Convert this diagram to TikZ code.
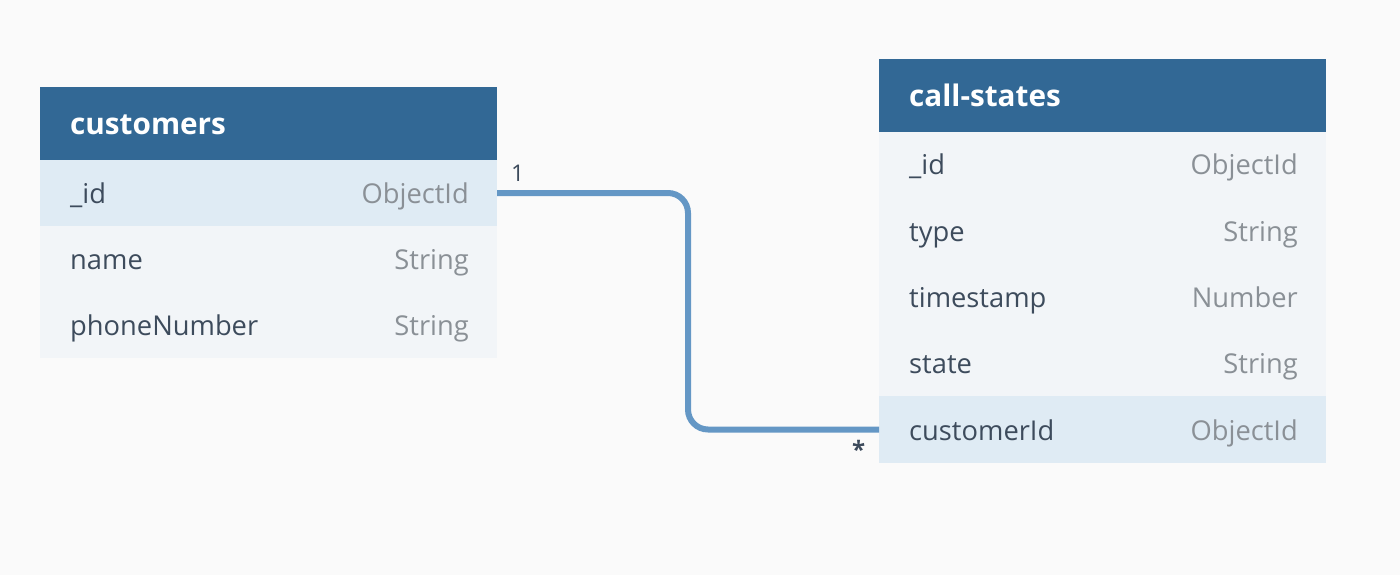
\documentclass[tikz,border=0pt]{standalone}
\usepackage{fontspec}
\setmainfont{Open Sans}
\definecolor{bgc}{HTML}{FAFAFA}
\definecolor{hdrblue}{HTML}{326895}
\definecolor{rowhl}{HTML}{DFEBF4}
\definecolor{rowplain}{HTML}{F2F5F8}
\definecolor{fieldtxt}{HTML}{3D4B5C}
\definecolor{typetxt}{HTML}{8A9096}
\definecolor{linkblue}{HTML}{6497C5}
\tikzset{
 hdr/.style={fill=hdrblue, draw=none, minimum height=73pt, anchor=north west, inner sep=0pt, outer sep=0pt},
 rowA/.style={fill=rowplain, draw=none, minimum height=66pt, anchor=north west, inner sep=0pt, outer sep=0pt},
 rowB/.style={rowA, fill=rowhl},
 fname/.style={anchor=base west, text=fieldtxt, font=\fontsize{27.3}{30}\selectfont, inner sep=0pt},
 ftype/.style={anchor=base east, text=typetxt, font=\fontsize{27.3}{30}\selectfont, inner sep=0pt},
 htitle/.style={anchor=base west, text=white, font=\bfseries\fontsize{29.7}{34}\selectfont, inner sep=0pt},
 link/.style={draw=linkblue, line width=6pt, rounded corners=20pt},
 card/.style={text=fieldtxt, font=\fontsize{23}{26}\selectfont, inner sep=0pt}
}
\begin{document}
\begin{tikzpicture}[x=1pt,y=-1pt]
\fill[bgc] (0,0) rectangle (1400,575);
% customers table
\begin{scope}[every node/.append style={minimum width=457pt}]
\node[hdr] (cH) at (40,87) {};
\node[rowB] (cR1) at (40,160) {};
\node[rowA] (cR2) at (40,226) {};
\node[rowA] (cR3) at (40,292) {};
\end{scope}
\node[htitle] (cT) at (70,135) {customers};
\node[fname] (cN1) at (70,203) {\_id};
\node[ftype] (cY1) at (469,203) {ObjectId};
\node[fname] (cN2) at (70,269) {name};
\node[ftype] (cY2) at (469,269) {String};
\node[fname] (cN3) at (70,335) {phoneNumber};
\node[ftype] (cY3) at (469,335) {String};
% call-states table
\begin{scope}[every node/.append style={minimum width=447pt}]
\node[hdr] (sH) at (879,59) {};
\node[rowA] (sR1) at (879,132) {};
\node[rowA] (sR2) at (879,198) {};
\node[rowA] (sR3) at (879,264) {};
\node[rowA] (sR4) at (879,330) {};
\node[rowB, minimum height=67pt] (sR5) at (879,396) {};
\end{scope}
\node[htitle] (sT) at (909,107) {call-states};
\node[fname] (sN1) at (909,175) {\_id};
\node[ftype] (sY1) at (1298,175) {ObjectId};
\node[fname] (sN2) at (909,241) {type};
\node[ftype] (sY2) at (1298,241) {String};
\node[fname] (sN3) at (909,307) {timestamp};
\node[ftype] (sY3) at (1298,307) {Number};
\node[fname] (sN4) at (909,373) {state};
\node[ftype] (sY4) at (1298,373) {String};
\node[fname] (sN5) at (909,440) {customerId};
\node[ftype] (sY5) at (1298,440) {ObjectId};
% connector
\coordinate (bend) at (688,0);
\draw[link] (cR1.east) -- (bend |- cR1.east) -- (bend |- sR5.west) -- (sR5.west);
\node[card, anchor=base west] (one) at (511,181) {1};
\node[card, anchor=north west, font=\bfseries\fontsize{24}{26}\selectfont] (many) at (852,440) {*};
\end{tikzpicture}
\end{document}
